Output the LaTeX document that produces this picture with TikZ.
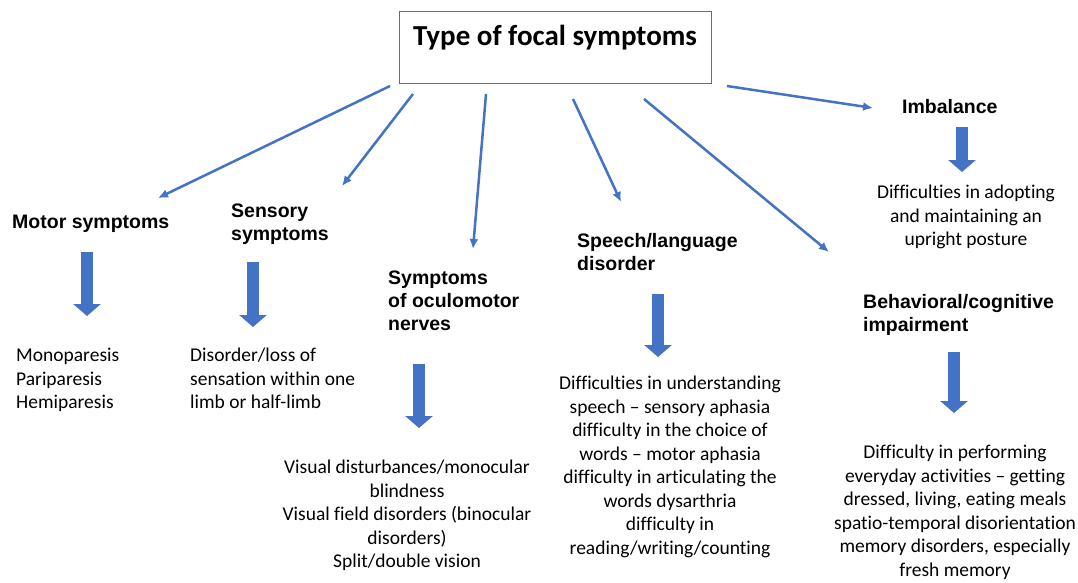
\documentclass[tikz,border=0pt]{standalone}
\usepackage{fontspec}
\setmainfont{Carlito}[Ligatures=NoCommon]
\newfontfamily\headfont{Liberation Sans}
\usetikzlibrary{arrows.meta}
\definecolor{arrowblue}{HTML}{4472C4}
\definecolor{boxline}{HTML}{5A6E85}
\tikzset{
  head/.style={anchor=north west,inner sep=0,align=left,font=\headfont\bfseries\fontsize{19.5}{23}\selectfont},
  body/.style={anchor=north,inner sep=0,align=center,font=\fontsize{19.5}{23.5}\selectfont},
  link/.style={draw=arrowblue,line width=2.5pt,-{Latex[length=10pt,width=9pt]}},
  down/.style={draw=arrowblue,line width=12pt,-{Triangle[length=12pt,width=27pt]}}
}
\begin{document}
\begin{tikzpicture}[x=1pt,y=-1pt]
    \useasboundingbox (0,0) rectangle (1078,582);

    \node[draw=boxline,line width=1pt,anchor=north,inner sep=0,minimum width=312pt,
      text height=34pt,text depth=38pt,font=\bfseries\fontsize{29}{34}\selectfont] (title) at (555,11) {Type of focal symptoms};

    \node[head] (motor) at (12,215) {Motor symptoms};
    \node[head] (sensory) at (231,204) {Sensory\\symptoms};
    \node[head] (oculo) at (388,271) {Symptoms\\of oculomotor\\nerves};
    \node[head] (speech) at (577,233) {Speech/language\\disorder};
    \node[head] (imbal) at (902,99) {Imbalance};
    \node[head] (behav) at (863,294) {Behavioral/cognitive\\impairment};

    \node[body,anchor=north west,align=left] (motortxt) at (16,348) {Monoparesis\\Pariparesis\\Hemiparesis};
    \node[body,anchor=north west,align=left] (sensorytxt) at (190,348) {Disorder/loss of\\sensation within one\\limb or half-limb};
    \node[body] (oculotxt) at (407,460) {Visual disturbances/monocular\\blindness\\Visual field disorders (binocular\\disorders)\\Split/double vision};
    \node[body] (speechtxt) at (670,376) {Difficulties in understanding\\speech -- sensory aphasia\\difficulty in the choice of\\words -- motor aphasia\\difficulty in articulating the\\words dysarthria\\difficulty in\\reading/writing/counting};
    \node[body] (imbaltxt) at (966,185) {Difficulties in adopting\\and maintaining an\\upright posture};
    \node[body] (behavtxt) at (955,445) {Difficulty in performing\\everyday activities -- getting\\dressed, living, eating meals\\spatio-temporal disorientation\\memory disorders, especially\\fresh memory};

    \coordinate (s1) at (390,86);   \coordinate (e1) at (158,198);
    \coordinate (s2) at (413,94);   \coordinate (e2) at (342,186);
    \coordinate (s3) at (486,94);   \coordinate (e3) at (473,249);
    \coordinate (s4) at (573,99);   \coordinate (e4) at (621,202);
    \coordinate (s5) at (644,99);   \coordinate (e5) at (829,252);
    \coordinate (s6) at (727,86);   \coordinate (e6) at (873,108);

    \draw[link] (s1)--(e1);
    \draw[link] (s2)--(e2);
    \draw[link] (s3)--(e3);
    \draw[link] (s4)--(e4);
    \draw[link] (s5)--(e5);
    \draw[link] (s6)--(e6);

    \coordinate (d1) at (87,252);   \coordinate (f1) at (87,316);
    \coordinate (d2) at (253,262);  \coordinate (f2) at (253,327);
    \coordinate (d3) at (419,364);  \coordinate (f3) at (419,428);
    \coordinate (d4) at (658,294);  \coordinate (f4) at (658,357);
    \coordinate (d5) at (962,127);  \coordinate (f5) at (962,172);
    \coordinate (d6) at (954,352);  \coordinate (f6) at (954,413);

    \draw[down] (d1)--(f1);
    \draw[down] (d2)--(f2);
    \draw[down] (d3)--(f3);
    \draw[down] (d4)--(f4);
    \draw[down] (d5)--(f5);
    \draw[down] (d6)--(f6);
  \end{tikzpicture}
\end{document}
